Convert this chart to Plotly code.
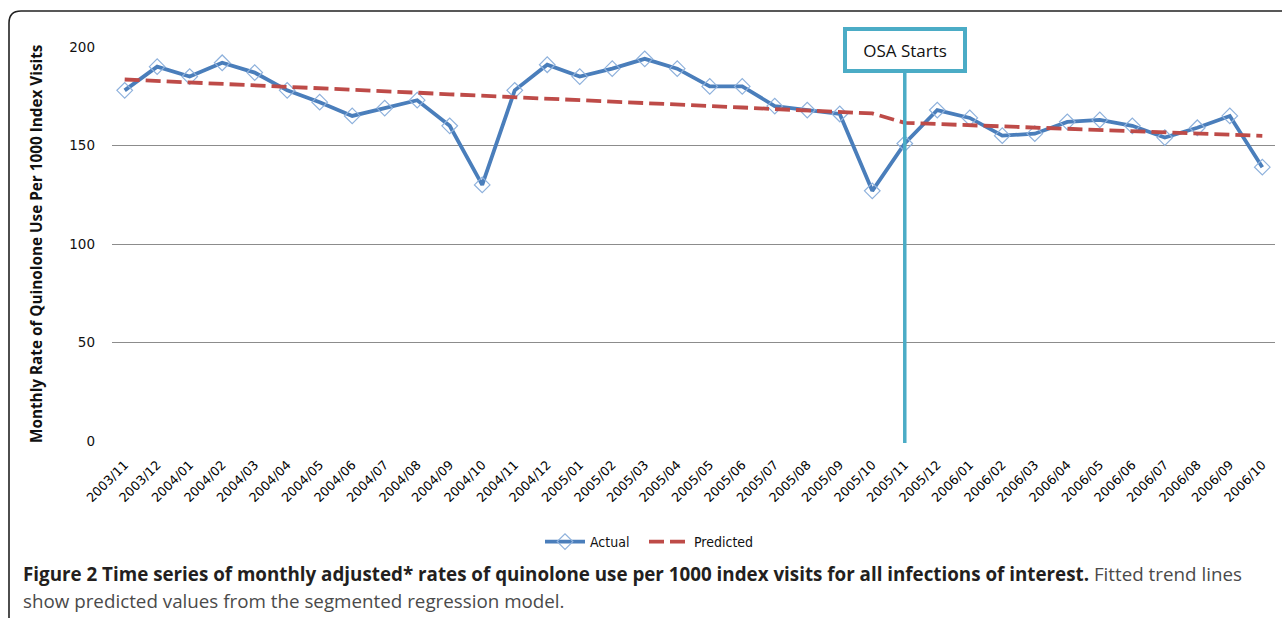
import plotly.graph_objects as go

months = ["2003/11", "2003/12", "2004/01", "2004/02", "2004/03", "2004/04", "2004/05", "2004/06",
          "2004/07", "2004/08", "2004/09", "2004/10", "2004/11", "2004/12", "2005/01", "2005/02",
          "2005/03", "2005/04", "2005/05", "2005/06", "2005/07", "2005/08", "2005/09", "2005/10",
          "2005/11", "2005/12", "2006/01", "2006/02", "2006/03", "2006/04", "2006/05", "2006/06",
          "2006/07", "2006/08", "2006/09", "2006/10"]

actual = [178, 190, 185, 192, 187, 178, 172, 165, 169, 173, 160, 130,
          178, 191, 185, 189, 194, 189, 180, 180, 170, 168, 166, 127,
          151, 168, 164, 155, 156, 162, 163, 160, 154, 159, 165, 139]

predicted = [183.5, 182.8, 182.0, 181.3, 180.5, 179.8, 179.0, 178.3, 177.5, 176.8, 176.0, 175.3,
             174.5, 173.8, 173.0, 172.3, 171.5, 170.8, 170.0, 169.3, 168.5, 167.8, 167.0, 166.3,
             161.5, 160.9, 160.3, 159.7, 159.1, 158.5, 157.9, 157.3, 156.7, 156.1, 155.5, 154.9]

osa_month = "2005/11"
y_ticks = [0, 50, 100, 150, 200]

W, H = 1282, 618
L, R, T, B = 112, 7, 47, 177
PW, PH = W - L - R, H - T - B


def px(x):
    return (x - L) / PW


def py(y):
    return (H - B - y) / PH


fig = go.Figure()
fig.add_trace(go.Scatter(
    x=list(range(len(months))), y=actual, name="Actual", mode="lines+markers",
    line=dict(color="#4A7EBB", width=3.8),
    marker=dict(symbol="diamond-open", size=12, color="#8EB1DC", line=dict(width=1.2)),
    legend="legend",
))
fig.add_trace(go.Scatter(
    x=list(range(len(months))), y=predicted, name="Predicted", mode="lines",
    line=dict(color="#BE4B48", width=3.8, dash="15px,6px"),
    legend="legend2",
))

osa_idx = months.index(osa_month)

# vertical OSA line
fig.add_shape(type="line", xref="x", yref="paper", x0=osa_idx, x1=osa_idx,
              y0=-0.005, y1=py(72), line=dict(color="#4BACC6", width=3.5), layer="above")

fig.add_annotation(x=osa_idx, xref="x", y=py(50), yref="paper", text="OSA Starts",
                   showarrow=False, font=dict(family="Open Sans", size=17, color="#111111"),
                   bgcolor="white", bordercolor="#4BACC6", borderwidth=4, borderpad=0,
                   width=116, height=38,
                   xanchor="center", yanchor="middle")

# y-axis title
fig.add_annotation(x=px(36), xref="paper", y=0.5, yref="paper", textangle=-90,
                   text="<b>Monthly Rate of Quinolone Use Per 1000 Index Visits</b>",
                   showarrow=False, font=dict(family="Open Sans", size=15.3, color="#111111"),
                   xanchor="center", yanchor="middle")

# caption
fig.add_annotation(x=px(21), xref="paper", y=py(574), yref="paper", xanchor="left", yanchor="middle",
                   text="<b>Figure 2 Time series of monthly adjusted* rates of quinolone use per 1000 index visits for all infections of interest.</b>"
                        "<span style='color:#4a4a4a'> Fitted trend lines</span>",
                   showarrow=False, align="left",
                   font=dict(family="Open Sans", size=18.8, color="#231F20"))
fig.add_annotation(x=px(21), xref="paper", y=py(601), yref="paper", xanchor="left", yanchor="middle",
                   text="show predicted values from the segmented regression model.",
                   showarrow=False, align="left",
                   font=dict(family="Open Sans", size=18.8, color="#4a4a4a"))

# frame with rounded top-left corner
r = 12
path = (f"M {px(9)},{py(H + 5)} L {px(9)},{py(11 + r)} "
        f"Q {px(9)},{py(11)} {px(9 + r)},{py(11)} L {px(W + 5)},{py(11)}")
fig.add_shape(type="path", xref="paper", yref="paper", path=path,
              line=dict(color="#222222", width=1.6), layer="above")

legend_font = dict(family="DejaVu Sans Condensed", size=14, color="#111111")

fig.update_layout(
    width=W, height=H,
    margin=dict(l=L, r=R, t=T, b=B),
    paper_bgcolor="white", plot_bgcolor="white",
    showlegend=True,
    legend=dict(orientation="h", x=px(540), xanchor="left", y=py(542), yanchor="middle",
                font=legend_font, itemwidth=40),
    legend2=dict(orientation="h", x=px(644), xanchor="left", y=py(542), yanchor="middle",
                 font=legend_font, itemwidth=40),
    xaxis=dict(range=[-0.39, len(months) - 1 + 0.39], tickmode="array",
               tickvals=list(range(len(months))), ticktext=months, tickangle=-45,
               showgrid=False, zeroline=False, showline=False, ticklabelstandoff=13,
               tickfont=dict(family="DejaVu Sans", size=12.7, color="#000000")),
    yaxis=dict(range=[0, 200], tickvals=y_ticks, showgrid=True, gridcolor="#8C8C8C",
               gridwidth=1, zeroline=False, showline=False, ticklabelstandoff=16,
               tickfont=dict(family="DejaVu Sans", size=13.5, color="#111111")),
)

fig.write_html("out.html", config={"displayModeBar": False},
               post_script="document.body.style.margin='0';")
